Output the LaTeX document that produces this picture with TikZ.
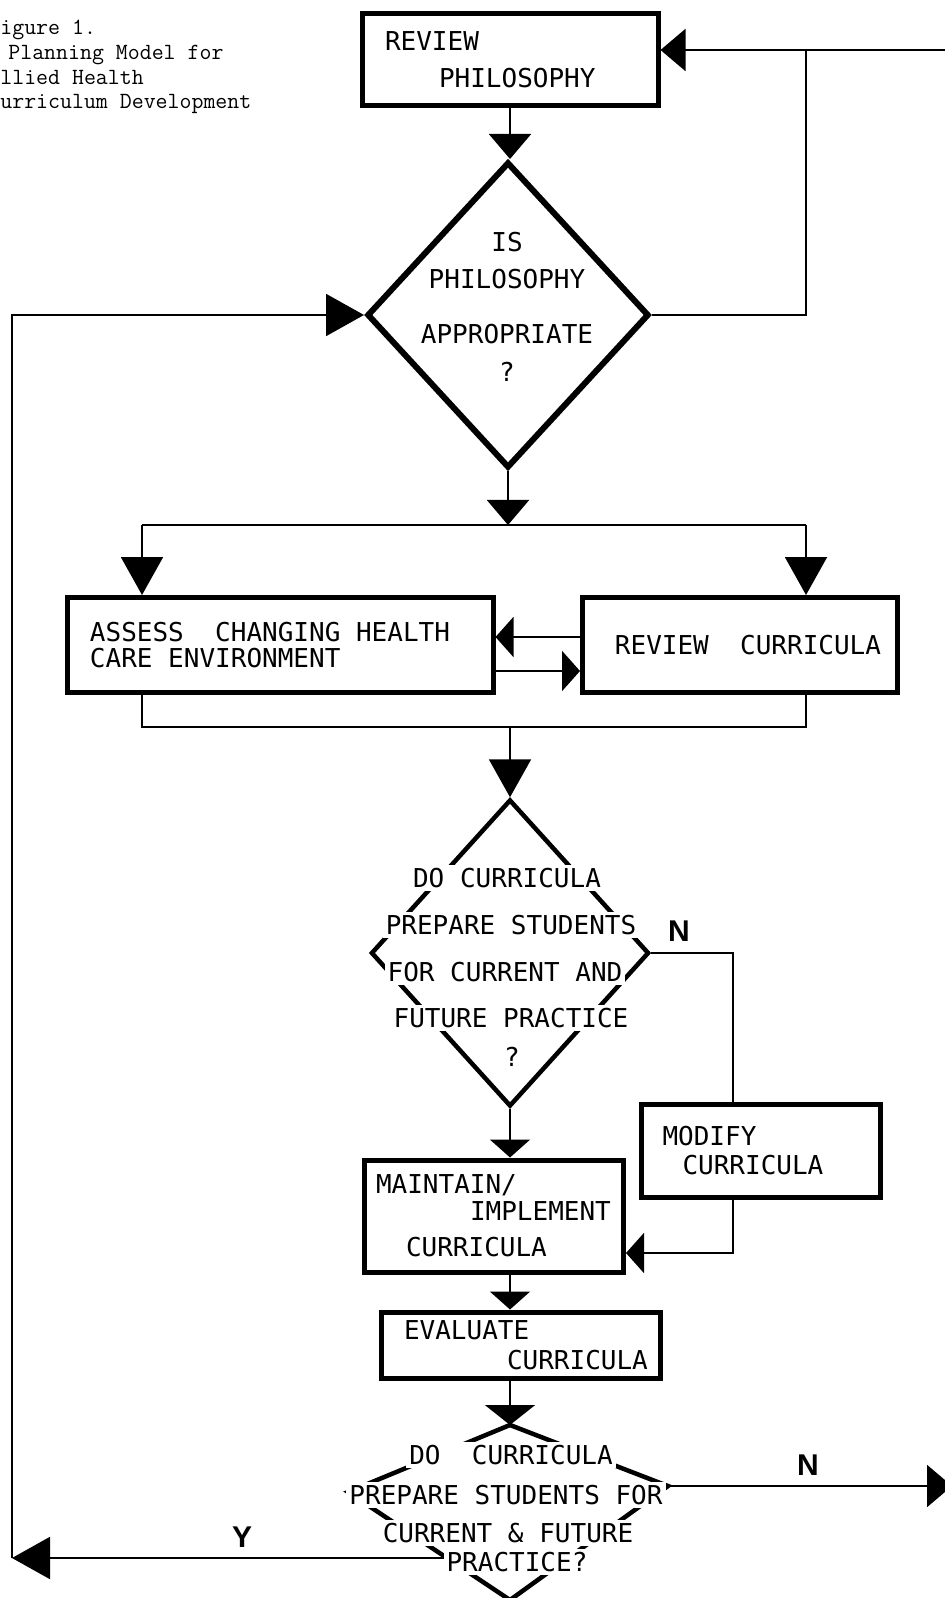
\documentclass[tikz,border=0pt]{standalone}
\usepackage{fontspec}
\usetikzlibrary{arrows.meta,shapes.geometric}
\newfontfamily\plotfont{DejaVu Sans Mono}[WordSpace={1,0,0}]
\newfontfamily\ynfont{Liberation Sans}

\tikzset{
  plottext/.style={font=\plotfont\fontsize{13}{15.6}\selectfont},
  pbox/.style={draw, line width=2.5pt, plottext, inner sep=0pt},
  dtext/.style={plottext, fill=white, inner sep=1.5pt},
  ynlabel/.style={font=\ynfont\bfseries\fontsize{15}{18}\selectfont},
  link/.style={line width=1pt},
  bigtip/.tip={Triangle[width=21pt,length=19pt]},
  midtip/.tip={Triangle[width=21pt,length=12.5pt]},
  smalltip/.tip={Triangle[width=20pt,length=9pt]},
  widetip/.tip={Triangle[width=25pt,length=10pt]}
}

\begin{document}
\begin{tikzpicture}[x=0.5pt,y=-0.5pt]
    \path[fill=white, use as bounding box] (0,0) rectangle (945,1598);

    % caption, cut at the left edge
    \node[anchor=north west, align=left, inner sep=0pt,
          font=\ttfamily\fontsize{11.6}{12.3}\selectfont] (caption) at (0,20)
         {igure 1.\\\hspace*{4pt}Planning Model for\\llied Health\\urriculum Development};

    % boxes and decisions
    \node[pbox, minimum width=148pt, minimum height=46pt, text width=125pt, align=left] (revphil) at (510,60)
         {REVIEW\\[2.9pt]\hspace*{27pt}PHILOSOPHY};
    \node[draw, diamond, line width=3pt, minimum width=141pt, minimum height=153pt, inner sep=0pt] (isphil) at (508,315) {};
    \node[plottext, align=center] (isphiltext) at (507,307)
         {IS\\[2.9pt]PHILOSOPHY\\[11.9pt]APPROPRIATE\\[3.4pt]?};
    \node[pbox, minimum width=213pt, minimum height=47.5pt, align=left] (assess) at (280,645)
         {ASSESS\ \ CHANGING HEALTH\hspace*{10pt}\\[-2.4pt]CARE ENVIRONMENT};
    \node[pbox, minimum width=157.5pt, minimum height=47.5pt] (revcurr) at (740,645) {\hspace*{8pt}REVIEW\ \ CURRICULA};

    \node[draw, diamond, line width=2.25pt, minimum width=139pt, minimum height=153.5pt, inner sep=0pt] (prepone) at (510,953) {};
    \node[dtext] (ponea) at (507,878) {DO CURRICULA};
    \node[dtext] (poneb) at (511,925) {PREPARE STUDENTS};
    \node[dtext] (ponec) at (505,972) {FOR CURRENT AND};
    \node[dtext] (poned) at (511,1018) {FUTURE PRACTICE};
    \node[dtext] (ponee) at (512,1057) {?};

    \node[pbox, minimum width=119.5pt, minimum height=46.5pt, text width=98.5pt, align=left] (modify) at (761,1151)
         {MODIFY\\[-1.1pt]\hspace*{10pt}CURRICULA};
    \node[pbox, minimum width=129.5pt, minimum height=56pt, text width=118pt, align=left] (maintain) at (494,1216)
         {MAINTAIN/\\[-2.1pt]\hspace*{47pt}IMPLEMENT\\[2.4pt]\hspace*{15pt}CURRICULA};
    \node[pbox, minimum width=139.5pt, minimum height=33pt, text width=130pt, align=left] (evaluate) at (521,1345)
         {\hspace*{6.5pt}EVALUATE\\[-0.6pt]\hspace*{58pt}\mbox{CURRICULA}};

    % last decision, flatter on top
    \coordinate (ptwon) at (510,1425);
    \coordinate (ptwow) at (348,1492);
    \coordinate (ptwos) at (510,1600);
    \coordinate (ptwoe) at (668,1486);
    \draw[line width=2.25pt] (ptwon) -- (ptwoe) -- (ptwos) -- (ptwow) -- cycle;

    % junctions
    \coordinate (split)  at (510,525);
    \coordinate (splitl) at (142,525);
    \coordinate (splitr) at (806,525);
    \coordinate (merge)  at (510,727);
    \coordinate (mergel) at (142,727);
    \coordinate (merger) at (806,727);
    \coordinate (rjoin)  at (806,50);
    \coordinate (redge)  at (945,50);
    \coordinate (ncorner) at (733,953);
    \coordinate (mcorner) at (733,1253);
    \coordinate (nexit)  at (952,1486);
    \coordinate (yexit)  at (447,1558);
    \coordinate (ytip)   at (12,1558);

    % connectors
    \draw[link,-midtip] (revphil.south) -- (revphil.south |- isphil.north);
    \draw[link,-midtip] (isphil.east) -| (rjoin) -- (rjoin -| revphil.east);
    \draw[link] (redge) -- (rjoin);
    \draw[link,-midtip] (isphil.south) -- (isphil.south |- split);
    \draw[link] (splitl) -- (splitr);
    \draw[link,-bigtip] (splitl) -- (splitl |- assess.north);
    \draw[link,-bigtip] (splitr) -- (splitr |- revcurr.north);
    \draw[link,-smalltip] ([yshift=4pt]revcurr.west) -- ([yshift=4pt]assess.east);
    \draw[link,-smalltip] ([yshift=-13pt]assess.east) -- ([yshift=-13pt]revcurr.west);
    \draw[link] (splitl |- assess.south) -- (mergel) -- (merger) -- (splitr |- revcurr.south);
    \draw[link,-bigtip] (merge) -- (prepone.north);
    \draw[link] (prepone.east) -- (ncorner) -- (ncorner |- modify.north);
    \draw[link,-smalltip] (prepone.south) -- (prepone.south |- maintain.north);
    \draw[link,-smalltip] (ncorner |- modify.south) -- (mcorner) -- (mcorner -| maintain.east);
    \draw[link,-smalltip] (prepone.south |- maintain.south) -- (prepone.south |- evaluate.north);
    \draw[link,-widetip] (prepone.south |- evaluate.south) -- (ptwon);
    \draw[link,-midtip] (ptwoe) -- (nexit);
    \draw[link,-bigtip] (yexit) -- (ytip);
    \draw[link,-bigtip] (ytip) |- (isphil.west);

    % text over the last decision
    \node[dtext] (ptwoa) at (511,1455) {DO\ \ CURRICULA};
    \node[dtext] (ptwob) at (506,1495) {PREPARE STUDENTS FOR};
    \node[dtext] (ptwoc) at (508,1533) {CURRENT \& FUTURE};
    \node[dtext] (ptwod) at (517,1562) {PRACTICE?};

    % answers
    \node[ynlabel] (nlabelone) at (679,931) {N};
    \node[ynlabel] (nlabeltwo) at (808,1465) {N};
    \node[ynlabel] (ylabel) at (242,1537) {Y};
\end{tikzpicture}
\end{document}
